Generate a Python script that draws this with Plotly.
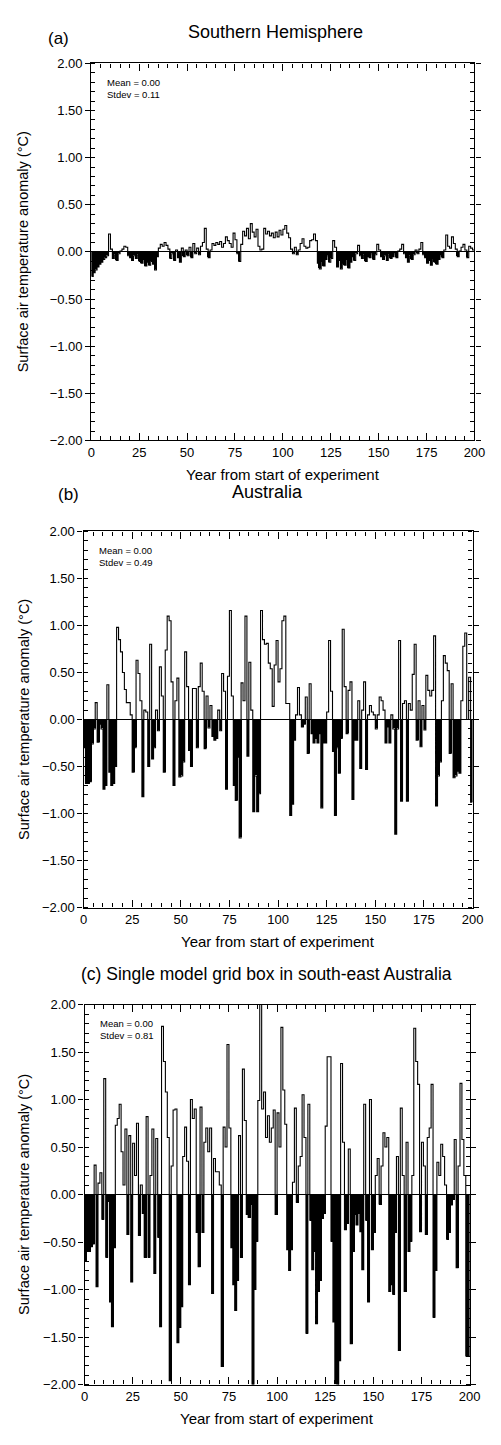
import plotly.graph_objects as go

years = list(range(200))

sh_values = [
    -0.26, -0.22, -0.19, -0.16, -0.13, -0.11, -0.08, -0.06, -0.04, 0.19,
    0.03, -0.07, -0.03, -0.09, -0.02, 0.01, 0.03, 0.06, 0.05, -0.04,
    -0.06, -0.09, -0.04, -0.07, -0.03, -0.10, -0.12, -0.08, -0.15, -0.11,
    -0.14, -0.10, -0.13, -0.19, -0.05, 0.04, 0.08, 0.06, 0.10, 0.07,
    0.03, -0.07, -0.02, -0.09, 0.02, -0.06, -0.11, 0.04, -0.05, 0.02,
    -0.04, 0.05, -0.06, 0.09, -0.02, 0.04, -0.03, 0.06, 0.10, 0.25,
    0.03, -0.06, 0.02, 0.09, 0.07, 0.10, 0.08, 0.11, 0.05, 0.09,
    0.16, 0.12, 0.09, 0.05, 0.20, 0.13, -0.02, -0.10, 0.08, 0.22,
    0.17, 0.25, 0.14, 0.30, 0.21, 0.16, 0.24, 0.06, 0.02, 0.03,
    0.25, 0.19, 0.22, 0.17, 0.20, 0.15, 0.21, 0.16, 0.23, 0.18,
    0.24, 0.28, 0.20, 0.15, 0.03, -0.02, 0.05, -0.03, 0.02, 0.09,
    0.14, 0.06, 0.04, 0.05, 0.12, 0.13, 0.19, 0.12, -0.12, -0.18,
    -0.10, -0.15, -0.08, -0.04, -0.11, -0.07, 0.12, 0.05, -0.16, -0.09,
    -0.18, -0.12, -0.14, -0.08, -0.17, -0.11, -0.05, -0.09, -0.02, 0.07,
    -0.04, -0.07, -0.03, -0.10, -0.05, -0.06, -0.02, -0.08, -0.03, 0.08,
    0.02, -0.05, -0.08, -0.04, -0.09, -0.03, -0.07, -0.05, -0.02, -0.06,
    0.01, 0.03, 0.08, -0.02, -0.06, -0.11, -0.04, -0.08, -0.03, 0.02,
    -0.02, 0.03, 0.10, -0.03, -0.06, -0.12, -0.09, -0.14, -0.07, -0.11,
    -0.13, -0.08, -0.04, -0.06, 0.02, 0.18, 0.06, 0.04, 0.16, 0.09,
    0.03, -0.05, 0.01, 0.05, 0.08, 0.02, -0.06, 0.06, 0.04, 0.02,
]

aus_values = [
    -0.30, -0.68, -0.68, -0.66, -0.26, -0.10, 0.18, -0.24, -0.05, -0.10,
    -0.74, -0.70, 0.37, -0.56, -0.70, -0.68, -0.50, 0.98, 0.85, 0.72,
    0.50, 0.32, 0.18, 0.18, 0.05, -0.56, -0.30, 0.63, 0.49, 0.20,
    -0.82, 0.10, 0.08, -0.50, 0.80, -0.42, -0.30, 0.10, -0.12, 0.56,
    0.25, -0.56, 0.74, 1.10, 1.05, 0.40, -0.70, 0.20, 0.44, -0.61,
    -0.60, -0.45, 0.72, 0.35, -0.33, -0.50, 0.33, 0.33, -0.30, 0.35,
    0.60, 0.30, -0.31, 0.25, -0.09, 0.15, -0.18, -0.22, -0.20, 0.10,
    -0.12, 0.49, 0.30, -0.74, 0.46, 1.16, 0.25, -0.70, -0.86, -0.40,
    -1.26, 0.39, 0.20, 1.10, -0.39, 0.61, 0.10, -0.98, -0.60, -0.98,
    -0.79, 1.16, 0.85, 0.80, 0.81, 0.60, 0.54, 0.14, 0.58, 0.84,
    0.40, 0.54, 1.05, 1.10, 0.17, 0.17, -1.02, -0.90, -0.22, 0.05,
    0.34, 0.05, -0.08, -0.05, 0.24, -0.36, 0.38, -0.15, -0.25, -0.20,
    -0.25, -0.15, -0.94, -0.25, -0.25, 0.08, 0.84, 0.30, -0.34, -1.02,
    -0.30, -0.57, -0.20, 0.96, 0.35, -0.15, 0.31, 0.40, -0.85, -0.22,
    -0.22, 0.20, -0.52, 0.10, 0.40, -0.53, 0.05, 0.15, 0.08, 0.05,
    -0.10, 0.05, 0.24, 0.20, 0.10, -0.25, -0.08, -0.25, 0.05, -0.10,
    -1.22, -0.10, 0.84, -0.87, 0.17, 0.20, -0.87, 0.17, 0.10, 0.48,
    0.80, -0.22, 0.20, -0.29, 0.15, -0.11, 0.47, 0.31, 0.25, 0.31,
    0.89, -0.92, -0.60, -0.45, 0.20, 0.68, 0.60, 0.52, -0.36, 0.38,
    -0.62, -0.60, -0.55, -0.57, 0.20, 0.78, 0.92, 0.00, 0.45, -0.88,
]

grid_values = [
    -0.69, -0.59, -0.60, -0.55, -0.52, 0.31, -0.97, 0.12, 0.23, -0.26,
    1.22, -0.66, -0.07, -1.13, -1.39, -0.56, 0.73, 0.80, 0.95, 0.45,
    0.10, 0.69, -0.42, 0.62, -0.92, 0.54, 0.20, 0.75, -0.43, 0.10,
    -0.20, -0.66, 0.82, -0.66, 0.20, 0.69, -0.83, 0.59, -0.45, -1.39,
    1.77, 1.40, 1.08, 0.60, -1.96, 0.30, 0.89, 0.90, -1.56, -1.40,
    -1.18, 0.40, 0.71, 0.35, -0.95, 1.00, 0.80, 0.90, -0.40, -0.76,
    0.92, -0.40, 0.55, 0.70, 0.45, 0.70, -1.04, 0.38, 0.24, 0.24,
    0.10, -1.81, 0.71, 0.50, 1.58, 0.70, -0.56, -0.95, -1.22, -0.90,
    0.62, -0.66, 1.32, 0.78, -0.21, -0.24, -0.10, -2.30, -1.00, -0.49,
    0.99, 2.20, 0.90, 1.08, 0.60, 0.83, 0.55, 0.70, 0.89, -0.21,
    0.86, 0.50, 1.76, 1.10, 0.74, -0.58, -0.80, -0.58, 0.13, 0.91,
    -0.08, 0.30, 0.40, 1.05, 0.60, -1.46, 0.95, -0.27, -0.79, -0.60,
    -1.36, -1.02, -0.90, -0.25, -0.20, 0.72, 1.45, 1.45, -0.49, -1.34,
    -1.99, -2.10, -1.75, 1.38, 0.55, -0.37, -0.30, 0.48, -1.57, -0.60,
    -0.21, -0.32, -0.20, -0.39, -0.79, 0.95, -0.27, -1.13, 1.00, -0.58,
    -0.40, 0.20, 0.38, -0.10, 0.30, 0.65, 0.50, 0.60, -1.02, -0.95,
    -1.05, -0.40, 0.40, -1.64, 0.91, 0.20, -1.02, 0.55, -0.60, -0.49,
    0.20, 1.75, 1.40, 1.16, -0.39, 0.55, 0.30, -0.42, 0.60, 0.70,
    1.16, -1.29, -0.80, 0.34, 0.20, 0.53, 0.40, 0.10, -0.47, -0.40,
    -0.11, -0.05, 0.58, -0.77, 0.30, 1.17, 0.58, 0.20, -1.70, -1.70,
]

panel_titles = ["Southern Hemisphere", "Australia", "Single model grid box in south-east Australia"]
panel_letters = ["(a)", "(b)", "(c)"]
stats_text = ["Mean = 0.00<br>Stdev = 0.11", "Mean = 0.00<br>Stdev = 0.49", "Mean = 0.00<br>Stdev = 0.81"]
x_title = "Year from start of experiment"
y_title = "Surface air temperature anomaly (°C)"
y_tickvals = [-2.0, -1.5, -1.0, -0.5, 0.0, 0.5, 1.0, 1.5, 2.0]
y_ticktext = ["\u22122.00", "\u22121.50", "\u22121.00", "\u22120.50", "0.00", "0.50", "1.00", "1.50", "2.00"]
x_tickvals = [0, 25, 50, 75, 100, 125, 150, 175, 200]

W, H = 501, 1445
FONT = "Liberation Sans, Arial, Helvetica, sans-serif"

# pixel layout of each panel: (x_left, x_right, y_top, y_bottom)
panels_px = [(90, 485, 57, 438), (82, 483, 530, 910), (83, 480, 1008, 1392)]
series = [sh_values, aus_values, grid_values]

fig = go.Figure()
annotations = []

for k, (vals, (xl, xr, yt, yb)) in enumerate(zip(series, panels_px)):
    sfx = "" if k == 0 else str(k + 1)
    xa, ya = "x" + sfx, "y" + sfx
    neg = [min(v, 0.0) for v in vals]
    fig.add_trace(go.Bar(
        x=[y + 0.5 for y in years], y=neg, width=1.0,
        marker=dict(color="black", line=dict(width=0)),
        xaxis=xa, yaxis=ya, showlegend=False, hoverinfo="skip"))
    fig.add_trace(go.Scatter(
        x=years + [200], y=vals + [vals[-1]], mode="lines",
        line=dict(color="black", width=1.1, shape="hv"),
        xaxis=xa, yaxis=ya, showlegend=False, hoverinfo="skip"))

    xdom = [xl / W, xr / W]
    ydom = [1 - yb / H, 1 - yt / H]
    xkey = "xaxis" + sfx
    ykey = "yaxis" + sfx
    fig.layout[xkey] = dict(
        domain=xdom, range=[0, 200], anchor=ya,
        tickmode="array", tickvals=x_tickvals,
        ticks="inside", ticklen=7, tickwidth=1, tickcolor="black",
        minor=dict(dtick=5, tick0=0, ticks="inside", ticklen=4, tickwidth=1, tickcolor="black", showgrid=False),
        showline=True, linecolor="black", linewidth=1.2, mirror="ticks",
        showgrid=False, zeroline=False,
        tickfont=dict(family=FONT, size=13, color="black"))
    fig.layout[ykey] = dict(
        domain=ydom, range=[-2, 2], anchor=xa,
        tickmode="array", tickvals=y_tickvals, ticktext=y_ticktext,
        ticks="outside", ticklen=5, tickwidth=1, tickcolor="black",
        minor=dict(dtick=0.1, tick0=0, ticks="inside", ticklen=4, tickwidth=1, tickcolor="black", showgrid=False),
        showline=True, linecolor="black", linewidth=1.2, mirror="ticks",
        showgrid=False, zeroline=True, zerolinecolor="black", zerolinewidth=1.1,
        tickfont=dict(family=FONT, size=13, color="black"))

    # axis titles
    annotations.append(dict(
        x=(xl + xr) / 2 / W, y=1 - (yb + 34) / H, xref="paper", yref="paper",
        text=x_title, showarrow=False, xanchor="center", yanchor="middle",
        font=dict(family=FONT, size=15, color="black")))
    annotations.append(dict(
        x=20 / W, y=1 - (yt + yb) / 2 / H, xref="paper", yref="paper",
        text=y_title, showarrow=False, textangle=-90, xanchor="center", yanchor="middle",
        font=dict(family=FONT, size=14.5, color="black")))
    # stats
    annotations.append(dict(
        x=(xl + 14) / W, y=1 - (yt + 12) / H, xref="paper", yref="paper",
        text=stats_text[k], showarrow=False, xanchor="left", yanchor="top", align="left",
        font=dict(family=FONT, size=9.5, color="black")))

# panel titles
annotations.append(dict(x=56 / W, y=1 - 32 / H, xref="paper", yref="paper", text="(a)",
                        showarrow=False, xanchor="center", yanchor="middle",
                        font=dict(family=FONT, size=17, color="black")))
annotations.append(dict(x=280 / W, y=1 - 25 / H, xref="paper", yref="paper", text=panel_titles[0],
                        showarrow=False, xanchor="center", yanchor="middle",
                        font=dict(family=FONT, size=18, color="black")))
annotations.append(dict(x=66 / W, y=1 - 493 / H, xref="paper", yref="paper", text="(b)",
                        showarrow=False, xanchor="center", yanchor="middle",
                        font=dict(family=FONT, size=17, color="black")))
annotations.append(dict(x=272 / W, y=1 - 490 / H, xref="paper", yref="paper", text=panel_titles[1],
                        showarrow=False, xanchor="center", yanchor="middle",
                        font=dict(family=FONT, size=18, color="black")))
annotations.append(dict(x=271 / W, y=1 - 977 / H, xref="paper", yref="paper",
                        text=panel_letters[2] + " " + panel_titles[2],
                        showarrow=False, xanchor="center", yanchor="middle",
                        font=dict(family=FONT, size=17.5, color="black")))

fig.update_layout(
    width=W, height=H, autosize=False,
    margin=dict(l=0, r=0, t=0, b=0),
    paper_bgcolor="white", plot_bgcolor="white",
    bargap=0, barmode="overlay",
    annotations=annotations,
    font=dict(family=FONT, color="black"),
)

fig.write_html("out.html")
